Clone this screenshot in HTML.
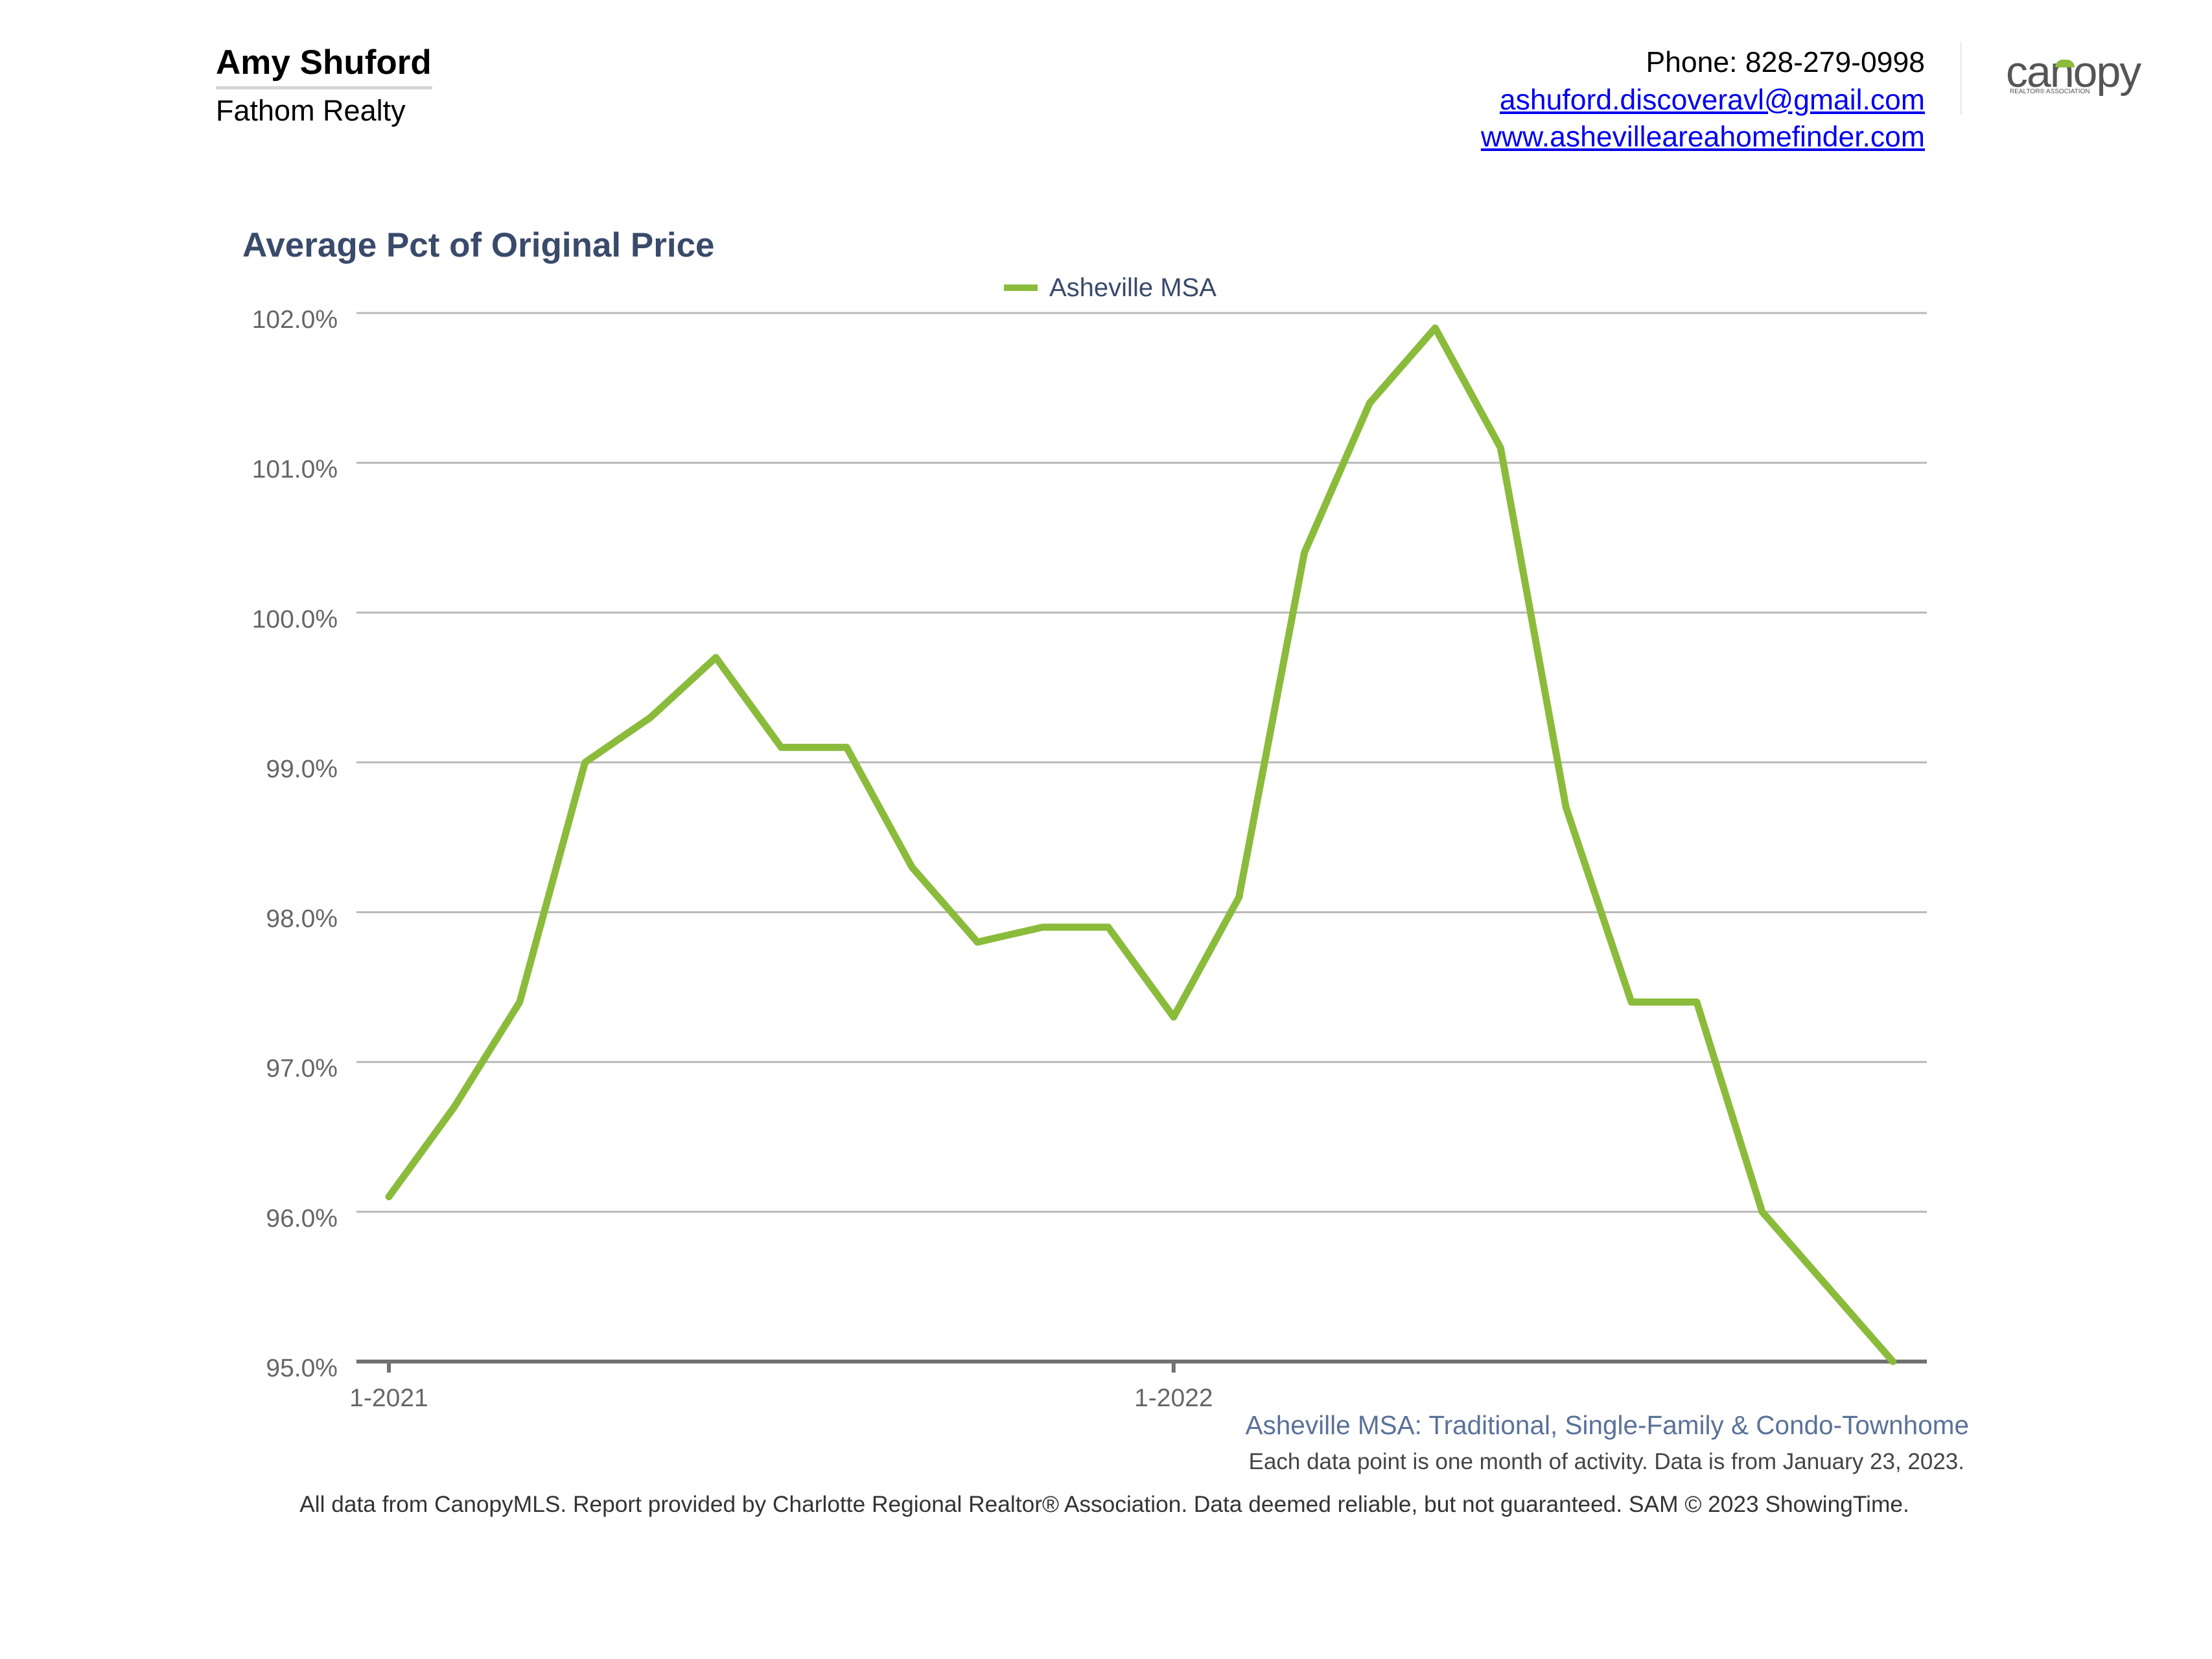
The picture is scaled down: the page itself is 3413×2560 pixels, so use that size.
<!DOCTYPE html>
<html><head><meta charset="utf-8">
<style>
html,body{margin:0;padding:0;background:#fff;}
body{width:3413px;height:2560px;position:relative;overflow:hidden;font-family:"Liberation Sans",Arial,sans-serif;}
.t{position:absolute;white-space:nowrap;}
a{color:#0000ee;text-decoration:underline;}
</style></head>
<body>
<div class="t" style="left:333px;top:66px;font-size:53px;font-weight:bold;color:#000;">Amy Shuford</div>
<div style="position:absolute;left:333px;top:133px;width:334px;height:5px;background:#d6d6d6;"></div>
<div class="t" style="left:333px;top:145px;font-size:45px;color:#000;">Fathom Realty</div>
<div class="t" style="right:443px;top:72px;font-size:44.5px;color:#000;">Phone: 828-279-0998</div>
<a class="t" style="right:443px;top:130px;font-size:44.5px;">ashuford.discoveravl@gmail.com</a>
<a class="t" style="right:443px;top:187px;font-size:44.5px;">www.ashevilleareahomefinder.com</a>
<div style="position:absolute;left:3024px;top:65px;width:3px;height:112px;background:#eee;"></div>
<div style="position:absolute;left:3095px;top:78px;width:210px;height:70px;">
  <div class="t" style="left:0;top:-6px;font-size:68px;color:#555;letter-spacing:-2px;">canopy</div>
  <div style="position:absolute;left:76px;top:14px;width:30px;height:12px;border-radius:15px 15px 0 0;background:#8bbb3b;"></div>
  <div class="t" style="left:6px;top:58px;font-size:10px;color:#555;">REALTOR® ASSOCIATION</div>
</div>
<div class="t" style="left:374px;top:348px;font-size:53px;font-weight:bold;color:#3a4a6b;">Average Pct of Original Price</div>

<svg id="chart" width="3413" height="2560" style="position:absolute;left:0;top:0;" xmlns="http://www.w3.org/2000/svg">
  <g id="grid"></g><g id="axis"></g><g id="series"></g>
  <line x1="1549" y1="444" x2="1601" y2="444" stroke="#8bbb3b" stroke-width="10"/>
  <text x="1619" y="457" font-size="40" fill="#3a4a6b" font-family="Liberation Sans, sans-serif">Asheville MSA</text>
</svg>

<div class="t" style="right:375px;top:2176px;font-size:40.5px;color:#5a7299;">Asheville MSA: Traditional, Single-Family &amp; Condo-Townhome</div>
<div class="t" style="right:382px;top:2236px;font-size:35px;color:#444;">Each data point is one month of activity. Data is from January 23, 2023.</div>
<div class="t" style="left:0;width:3408px;text-align:center;top:2302px;font-size:35.3px;color:#333;">All data from CanopyMLS. Report provided by Charlotte Regional Realtor® Association. Data deemed reliable, but not guaranteed. SAM © 2023 ShowingTime.</div>

<script>
const months = ["1-2021","2-2021","3-2021","4-2021","5-2021","6-2021","7-2021","8-2021","9-2021","10-2021","11-2021","12-2021","1-2022","2-2022","3-2022","4-2022","5-2022","6-2022","7-2022","8-2022","9-2022","10-2022","11-2022","12-2022"];
const values = [96.1,96.7,97.4,99.0,99.3,99.7,99.1,99.1,98.3,97.8,97.9,97.9,97.3,98.1,100.4,101.4,101.9,101.1,98.7,97.4,97.4,96.0,95.5,95.0];
const yTicks = [95,96,97,98,99,100,101,102];
const yTickLabels = ["95.0%","96.0%","97.0%","98.0%","99.0%","100.0%","101.0%","102.0%"];
const xTickLabels = ["1-2021","1-2022"];

const NS = "http://www.w3.org/2000/svg";
const X0 = 600, DX = 100.9, PL = 550, PR = 2973;
const yMin = 95, yMax = 102, Y95 = 2101, Y102 = 483;
function xScale(i){ return X0 + i*DX; }
function yScale(v){ return Y95 - (v - yMin)/(yMax - yMin)*(Y95 - Y102); }
function mk(tag, attrs){ const e = document.createElementNS(NS, tag); for (const k in attrs) e.setAttribute(k, attrs[k]); return e; }

const grid = document.getElementById('grid');
yTicks.forEach((v, i) => {
  const y = yScale(v);
  if (v !== yMin) {
    const gl = mk('line', {x1:PL, x2:PR, y1:y, y2:y, stroke:'#b8b8b8', 'stroke-width':3});
    
    
    grid.appendChild(gl);
  }
  const t = mk('text', {x:521, y:y+23, 'text-anchor':'end', 'font-size':39, fill:'#666', 'font-family':'Liberation Sans, sans-serif'});
  t.textContent = yTickLabels[i];
  
  
  grid.appendChild(t);
});

const axis = document.getElementById('axis');
const ax = mk('line', {x1:PL, x2:PR, y1:Y95, y2:Y95, stroke:'#717171', 'stroke-width':6});


axis.appendChild(ax);
xTickLabels.forEach(lbl => {
  const i = months.indexOf(lbl);
  const x = xScale(i);
  const tk = mk('line', {x1:x, x2:x, y1:Y95, y2:Y95+17, stroke:'#717171', 'stroke-width':6});
  
  
  axis.appendChild(tk);
  const t = mk('text', {x:x, y:2170, 'text-anchor':'middle', 'font-size':39, fill:'#666', 'font-family':'Liberation Sans, sans-serif'});
  t.textContent = lbl;
  
  
  axis.appendChild(t);
});

const pts = values.map((v, i) => xScale(i).toFixed(1) + ',' + yScale(v).toFixed(1)).join(' ');
const line = mk('polyline', {points:pts, fill:'none', stroke:'#8bbb3b', 'stroke-width':11, 'stroke-linejoin':'round', 'stroke-linecap':'round'});


document.getElementById('series').appendChild(line);
</script>
</body></html>
